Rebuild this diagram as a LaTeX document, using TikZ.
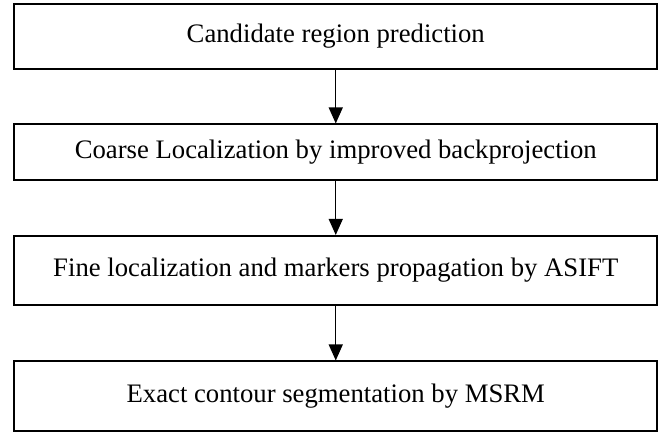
\documentclass[tikz,border=0pt]{standalone}
\usepackage{fontspec}
\setmainfont{Liberation Serif}
\usetikzlibrary{arrows.meta}
\tikzset{
  stage/.style={draw, line width=1.6pt, minimum width=643pt, inner sep=0pt,
    font=\fontsize{26.7}{30}\selectfont},
  flow/.style={-{Triangle[length=16pt,width=14pt]}, line width=1.3pt}
}
\begin{document}
\begin{tikzpicture}[x=1pt,y=1pt]
	\useasboundingbox (0,0) rectangle (670,-432);
	\node[stage, minimum height=64.5pt] (cand) at (335.75,-36.5) {Candidate region prediction};
	\node[stage, minimum height=55.5pt] (coarse) at (335.75,-152) {Coarse Localization by improved backprojection};
	\node[stage, minimum height=69.5pt] (fine) at (335.75,-270.5) {Fine localization and markers propagation by ASIFT};
	\node[stage, minimum height=69.5pt] (exact) at (335.75,-396) {Exact contour segmentation by MSRM};
	% arrows
	\draw[flow] (cand) -- (coarse);
	\draw[flow] (coarse) -- (fine);
	\draw[flow] (fine) -- (exact);
\end{tikzpicture}
\end{document}
